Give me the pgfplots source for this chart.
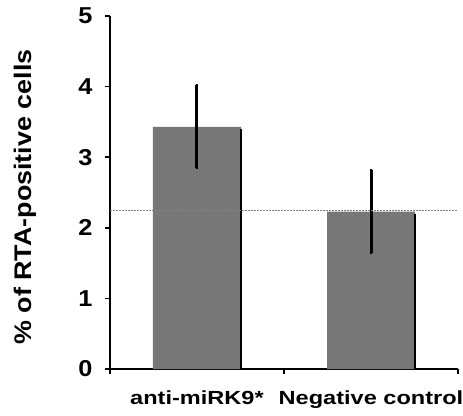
\documentclass[border=0pt]{standalone}
\usepackage{pgfplots}
\pgfplotsset{compat=1.18}
\usepackage{fontspec}
\setmainfont{Liberation Sans}
\usepackage{graphicx}
\definecolor{bargray}{HTML}{777777}
\begin{document}
\begin{tikzpicture}
\useasboundingbox (-110pt,-46pt) rectangle (353pt,369pt);
\begin{axis}[
  at={(0,0)}, anchor=south west,
  scale only axis, width=348pt, height=353pt,
  xmin=-0.5, xmax=1.5, ymin=0, ymax=5,
  axis x line*=bottom, axis y line*=left,
  axis line style={line width=1.5pt, -},
  ytick={0,1,2,3,4,5},
  xtick={-0.5,0.5,1.5}, xticklabels={},
  extra x ticks={0,1},
  extra x tick labels={\scalebox{1.24}[1]{anti-miRK9*},\scalebox{1.24}[1]{Negative control}},
  extra x tick style={major tick length=0pt, ticklabel style={yshift=-18pt}},
  tick align=outside, major tick length=5pt,
  tick style={line width=1.5pt, black},
  yticklabel style={font=\fontsize{23}{23}\selectfont\bfseries, xshift=-9pt},
  xticklabel style={font=\fontsize{19}{19}\selectfont\bfseries, anchor=north},
  /pgf/number format/assume math mode=true,
  yticklabel={\scalebox{1.1}[1]{\pgfmathprintnumber{\tick}}},
  clip=false,
]
\addplot[ybar, bar width=88pt, fill=bargray, draw=none,
  error bars/.cd, y dir=both, y explicit,
  error bar style={line width=3pt, black},
  error mark options={rotate=90, mark size=1.4pt, line width=2pt, black}]
  coordinates {(0,3.43) +- (0,0.59) (1,2.23) +- (0,0.59)};
\addplot[ycomb, black, line width=1.2pt, mark=none]
  coordinates {(0.253,3.40) (1.253,2.20)};
\addplot[gray, line width=0.6pt, dash pattern=on 2pt off 1pt, mark=none]
  coordinates {(-0.5,2.25) (1.5,2.25)};
\node[rotate=90, font=\fontsize{24}{24}\selectfont\bfseries] at ([xshift=-85pt]rel axis cs:0,0.487) {\scalebox{1.12}[1]{\% of RTA-positive cells}};
\end{axis}
\end{tikzpicture}
\end{document}
